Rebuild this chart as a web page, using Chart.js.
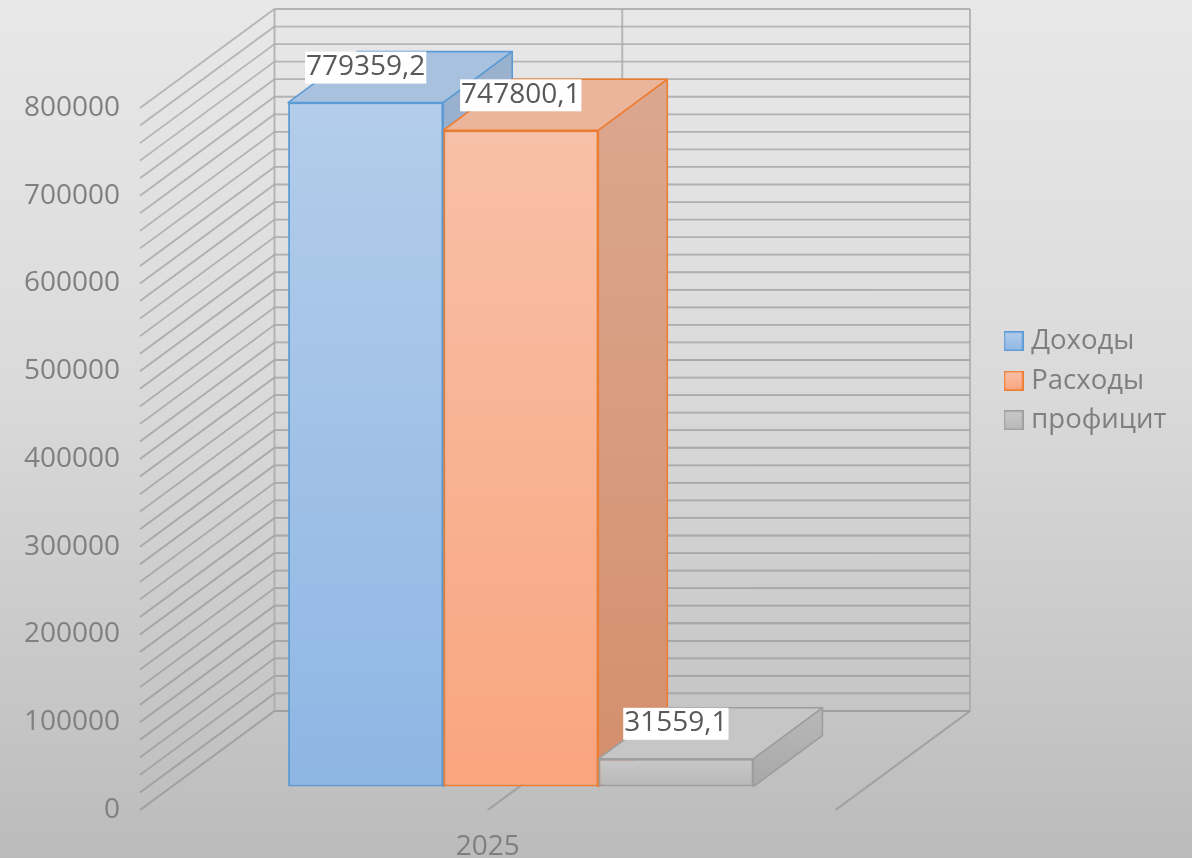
<!DOCTYPE html>
<html lang="ru">
<head>
<meta charset="utf-8">
<style>html,body{margin:0;padding:0;background:#d8d8d8}canvas{display:block}</style>
<script src="https://cdn.jsdelivr.net/npm/chart.js@4"></script>
</head>
<body>
<canvas id="c" width="1192" height="858"></canvas>
<script>
const categories = ['2025'];
const seriesNames = ['Доходы', 'Расходы', 'профицит'];
const incomeValues = [779359.2];
const expenseValues = [747800.1];
const surplusValues = [31559.1];
const axisMax = 800000;
const majorStep = 100000;
const gridStep = 20000;

const FONT = '"Open Sans", "Noto Sans", sans-serif';
const wallDX = 134.5, wallDY = -99;
const barShiftX = 33, barShiftY = -23.5;
const barDX = 69, barDY = -51;

const styles = [
  {front:['#b3cdea','#8eb6e4'], top:'#a8c1df', side:['#9bb2cf','#7f9dc4'], line:'#5b9bd5'},
  {front:['#f8c0a8','#f9a57e'], top:'#ebb59c', side:['#dba78f','#d48f6d'], line:'#ed7d31'},
  {front:['#c9c9c9','#b8b8b8'], top:'#c6c6c6', side:['#b8b8b8','#a8a8a8'], line:'#9e9e9e'}
];

function frontGradient(ctx, i) {
  const chart = ctx.chart, y = chart.scales && chart.scales.y;
  if (!chart.chartArea || !y) return styles[i].front[0];
  const value = chart.data.datasets[i].data[0];
  const g = chart.ctx.createLinearGradient(0, y.getPixelForValue(value), 0, y.getPixelForValue(0));
  g.addColorStop(0, styles[i].front[0]);
  g.addColorStop(1, styles[i].front[1]);
  return g;
}

function legendSwatch(i) {
  const cv = document.createElement('canvas');
  cv.width = 20; cv.height = 20;
  const c = cv.getContext('2d');
  const g = c.createLinearGradient(0, 0, 0, 20);
  g.addColorStop(0, styles[i].front[0]);
  g.addColorStop(1, styles[i].front[1]);
  c.fillStyle = g;
  c.fillRect(0, 0, 20, 20);
  c.strokeStyle = styles[i].line;
  c.lineWidth = 1.5;
  c.strokeRect(0.75, 0.75, 18.5, 18.5);
  return cv;
}

function seg(c, x1, y1, x2, y2) { c.beginPath(); c.moveTo(x1, y1); c.lineTo(x2, y2); c.stroke(); }

function gridSeg(c, x1, y1, x2, y2, t) {
  const gray = Math.round(172 - 32 * t);
  c.strokeStyle = 'rgba(' + gray + ',' + gray + ',' + gray + ',0.85)';
  c.lineWidth = 1.8;
  seg(c, x1, y1, x2, y2);
  c.strokeStyle = 'rgba(232,232,232,' + (0.05 + 0.5 * t).toFixed(2) + ')';
  c.lineWidth = 0.5;
  seg(c, x1, y1, x2, y2);
}

const scene = {
  id: 'scene',
  afterLayout(chart) {
    const lg = chart.legend;
    if (lg) { lg.left = 997.5; lg.top = 315.5; lg.right = 1192; }
  },
  beforeDraw(chart) {
    const c = chart.ctx;
    const g = c.createLinearGradient(0, 0, 0, chart.height);
    g.addColorStop(0, '#e8e8e8');
    g.addColorStop(0.2, '#e2e2e2');
    g.addColorStop(0.45, '#dadada');
    g.addColorStop(0.8, '#c7c7c7');
    g.addColorStop(1, '#bbbbbb');
    c.save();
    c.fillStyle = g;
    c.fillRect(0, 0, chart.width, chart.height);
    c.restore();
  },
  beforeDatasetsDraw(chart) {
    const c = chart.ctx, a = chart.chartArea, y = chart.scales.y;
    c.save();
    const bl = a.left + wallDX, br = a.right + wallDX;
    for (let v = 0; v <= axisMax; v += gridStep) {
      const py = y.getPixelForValue(v), t = 1 - v / axisMax;
      gridSeg(c, a.left, py, bl, py + wallDY, t);
      gridSeg(c, bl, py + wallDY, br, py + wallDY, t);
    }
    const top = y.getPixelForValue(axisMax) + wallDY, bot = y.getPixelForValue(0) + wallDY;
    const mid = (a.left + a.right) / 2;
    [bl, mid + wallDX, br].forEach(x => gridSeg(c, x, top, x, bot, 0.2));
    gridSeg(c, a.right, a.bottom, br, bot, 1);
    gridSeg(c, mid, a.bottom, mid + wallDX, bot, 1);
    c.restore();

    c.save();
    c.translate(barShiftX, barShiftY);
    c.lineJoin = 'round';
    chart.data.datasets.forEach((ds, i) => {
      const b = chart.getDatasetMeta(i).data[0], s = styles[i];
      const l = b.x - b.width / 2, r = b.x + b.width / 2, t = b.y, base = b.base;
      c.lineWidth = 1.6;
      c.strokeStyle = s.line;
      c.fillStyle = s.top;
      c.beginPath();
      c.moveTo(l, t); c.lineTo(r, t); c.lineTo(r + barDX, t + barDY); c.lineTo(l + barDX, t + barDY);
      c.closePath(); c.fill(); c.stroke();
      const g = c.createLinearGradient(0, t + barDY, 0, base);
      g.addColorStop(0, s.side[0]); g.addColorStop(1, s.side[1]);
      c.fillStyle = g;
      c.beginPath();
      c.moveTo(r, t); c.lineTo(r + barDX, t + barDY); c.lineTo(r + barDX, base + barDY); c.lineTo(r, base);
      c.closePath(); c.fill(); c.stroke();
    });
  },
  afterDatasetsDraw(chart) {
    const c = chart.ctx;
    c.restore();
    c.save();
    c.font = '28px ' + FONT;
    c.textAlign = 'center';
    c.textBaseline = 'middle';
    chart.data.datasets.forEach((ds, i) => {
      const b = chart.getDatasetMeta(i).data[0];
      const text = String(ds.data[0]).replace('.', ',');
      const w = c.measureText(text).width + 2;
      const cx = b.x + barShiftX, ty = b.y + barShiftY + barDY;
      c.fillStyle = '#ffffff';
      c.fillRect(cx - w / 2, ty, w, 32);
      c.fillStyle = '#595959';
      c.fillText(text, cx, ty + 15.5);
    });
    c.restore();
  }
};

function makeDataset(i, values) {
  return {
    label: seriesNames[i],
    data: values,
    backgroundColor: ctx => frontGradient(ctx, i),
    borderColor: styles[i].line,
    borderWidth: 2,
    borderSkipped: false,
    categoryPercentage: 0.669,
    barPercentage: 1,
    clip: false
  };
}

new Chart(document.getElementById('c'), {
  type: 'bar',
  data: {
    labels: categories,
    datasets: [makeDataset(0, incomeValues), makeDataset(1, expenseValues), makeDataset(2, surplusValues)]
  },
  options: {
    responsive: false,
    animation: false,
    events: [],
    layout: { padding: { top: 108, right: 177.5, left: 0, bottom: 0 } },
    plugins: {
      title: { display: false },
      tooltip: { enabled: false },
      legend: {
        position: 'right',
        align: 'start',
        labels: {
          usePointStyle: true,
          pointStyleWidth: 8,
          boxHeight: 20,
          padding: 12,
          color: '#7f7f7f',
          font: { family: FONT, size: 27.5 },
          generateLabels: chart => chart.data.datasets.map((ds, i) => ({
            text: ds.label,
            fontColor: '#7f7f7f',
            pointStyle: legendSwatch(i),
            datasetIndex: i
          }))
        }
      }
    },
    scales: {
      x: {
        afterFit: s => { s.height = 48; },
        grid: { display: false, drawTicks: false },
        border: { display: false },
        ticks: { padding: 20, color: '#7f7f7f', font: { family: FONT, size: 28 } }
      },
      y: {
        min: 0,
        max: axisMax,
        afterFit: s => { s.width = 140; },
        grid: { display: false, drawTicks: false },
        border: { display: false },
        ticks: {
          stepSize: majorStep,
          padding: 20,
          color: '#808080',
          font: { family: FONT, size: 28 },
          callback: v => String(v)
        }
      }
    }
  },
  plugins: [scene]
});
</script>
</body>
</html>
